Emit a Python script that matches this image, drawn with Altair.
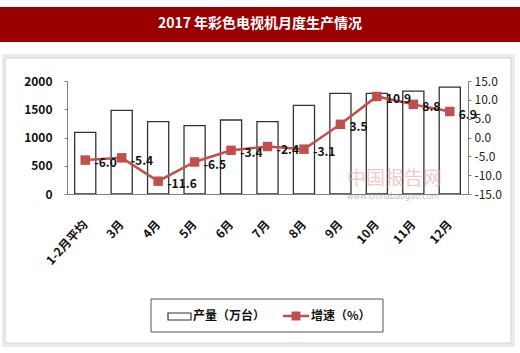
import altair as alt
import pandas as pd

# ---- data ----
months = ["1-2月平均", "3月", "4月", "5月", "6月", "7月", "8月", "9月", "10月", "11月", "12月"]
output = [1090, 1480, 1280, 1210, 1310, 1280, 1570, 1780, 1780, 1820, 1890]
growth = [-6.0, -5.4, -11.6, -6.5, -3.4, -2.4, -3.1, 3.5, 10.9, 8.8, 6.9]
left_ticks = [0, 500, 1000, 1500, 2000]
right_ticks = [-15, -10, -5, 0, 5, 10, 15]
title_text = "2017 年彩色电视机月度生产情况"
legend_labels = ["产量（万台）", "增速（%）"]
watermark = ["中国报告网", "www.chinabaogao.com"]

df = pd.DataFrame({"month": months, "output": output, "growth": growth,
                   "glabel": [f"{g:.1f}" for g in growth]})
one = alt.Data(values=[{"k": 1}])

FONT = "Noto Sans CJK SC"
RED = "#C0504D"
W, H = 401, 113

# ---- decorations ----
shadow = alt.Chart(one).mark_rect(fill="#ececec").encode(
    x=alt.value(-65), x2=alt.value(448), y=alt.value(-27), y2=alt.value(266))
panel = alt.Chart(one).mark_rect(fill="white", stroke="#d4d4d4", strokeWidth=1).encode(
    x=alt.value(-62), x2=alt.value(444), y=alt.value(-23), y2=alt.value(262))
banner = alt.Chart(one).mark_rect(fill="#990000").encode(
    x=alt.value(-67), x2=alt.value(453), y=alt.value(-74), y2=alt.value(-39))
title = alt.Chart(one).mark_text(font=FONT, fontSize=14, fontWeight="bold", color="white",
                                  align="center", baseline="middle").encode(
    x=alt.value(193), y=alt.value(-57), text=alt.value(title_text))

# ---- bars ----
xscale = alt.Scale(paddingInner=0.42, paddingOuter=0.21)
xenc = alt.X("month:N", sort=months, scale=xscale,
             axis=alt.Axis(title=None, labelAngle=-48, labelAlign="right", labelBaseline="middle",
                           labelFont=FONT, labelFontSize=12, labelFontWeight="bold",
                           labelColor="#111111", ticks=False, labelPadding=28,
                           domainColor="#808080", domainWidth=1.2, zindex=2))
xplain = alt.X("month:N", sort=months, scale=xscale)

bars = alt.Chart(df).mark_bar(fill="white", stroke="#333333", strokeWidth=1.3).encode(
    x=xenc,
    y=alt.Y("output:Q", scale=alt.Scale(domain=[0, 2000]),
            axis=alt.Axis(orient="left", values=left_ticks, format="d", title=None, grid=False,
                          labelFont=FONT, labelFontSize=12, labelFontWeight="bold",
                          labelColor="#111111", domainColor="#808080", tickColor="#808080",
                          tickSize=3, labelPadding=12, labelOverlap=False, zindex=2)))

yr = alt.Y("growth:Q", scale=alt.Scale(domain=[-15, 15]),
           axis=alt.Axis(orient="right", values=right_ticks, title=None, grid=False,
                         labelExpr="replace(format(datum.value, '.1f'), '\u2212', '-')",
                         labelFont=FONT, labelFontSize=12, labelColor="#222222",
                         labelOverlap=False, labelBound=False, labelFlush=False,
                         domainColor="#808080", tickColor="#808080", tickSize=3, labelPadding=3,
                         zindex=2))

line = alt.Chart(df).mark_line(color=RED, strokeWidth=2.5).encode(x=xplain, y=yr)
pts = alt.Chart(df).mark_point(shape="square", filled=True, size=90, color=RED, opacity=1).encode(
    x=xplain, y=yr)
lbl = alt.Chart(df).mark_text(font=FONT, fontSize=12, fontWeight="bold", color="#111111",
                              align="left", baseline="middle", dx=9, dy=3).encode(
    x=xplain, y=yr, text="glabel:N")
right_layer = alt.layer(line, pts, lbl)

# ---- watermark ----
wm1 = alt.Chart(one).mark_text(font=FONT, fontSize=19, color="#e8a0a0", opacity=0.55,
                               align="left", baseline="middle").encode(
    x=alt.value(280), y=alt.value(98), text=alt.value(watermark[0]))
wm2 = alt.Chart(one).mark_text(font="DejaVu Sans", fontSize=8, color="#999999", opacity=0.6,
                               align="left", baseline="middle").encode(
    x=alt.value(280), y=alt.value(116), text=alt.value(watermark[1]))

# ---- legend ----
lg_box = alt.Chart(one).mark_rect(fill="white", stroke="#555555", strokeWidth=1).encode(
    x=alt.value(84), x2=alt.value(316), y=alt.value(218), y2=alt.value(251))
lg_rect = alt.Chart(one).mark_rect(fill="white", stroke="#333333", strokeWidth=1.2).encode(
    x=alt.value(101), x2=alt.value(124), y=alt.value(232), y2=alt.value(239))
lg_t1 = alt.Chart(one).mark_text(font=FONT, fontSize=12, fontWeight="bold", color="#111111",
                                 align="left", baseline="middle").encode(
    x=alt.value(126), y=alt.value(235), text=alt.value(legend_labels[0]))
lg_line = alt.Chart(one).mark_rule(color=RED, strokeWidth=2.5).encode(
    x=alt.value(216), x2=alt.value(242), y=alt.value(235))
lg_pt = alt.Chart(one).mark_point(shape="square", filled=True, size=80, color=RED, opacity=1).encode(
    x=alt.value(229), y=alt.value(235))
lg_t2 = alt.Chart(one).mark_text(font=FONT, fontSize=12, fontWeight="bold", color="#111111",
                                 align="left", baseline="middle").encode(
    x=alt.value(244), y=alt.value(235), text=alt.value(legend_labels[1]))

chart = alt.layer(
    shadow, panel, banner, title,
    bars, right_layer,
    wm1, wm2,
    lg_box, lg_rect, lg_t1, lg_line, lg_pt, lg_t2,
).resolve_scale(y="independent").properties(
    width=W, height=H,
    autosize=alt.AutoSizeParams(type="none"),
    padding={"left": 67, "top": 81, "right": 52, "bottom": 159},
    background="white",
).configure_view(stroke=None)

chart.save("out.html", embed_options={"renderer": "svg", "actions": False})
